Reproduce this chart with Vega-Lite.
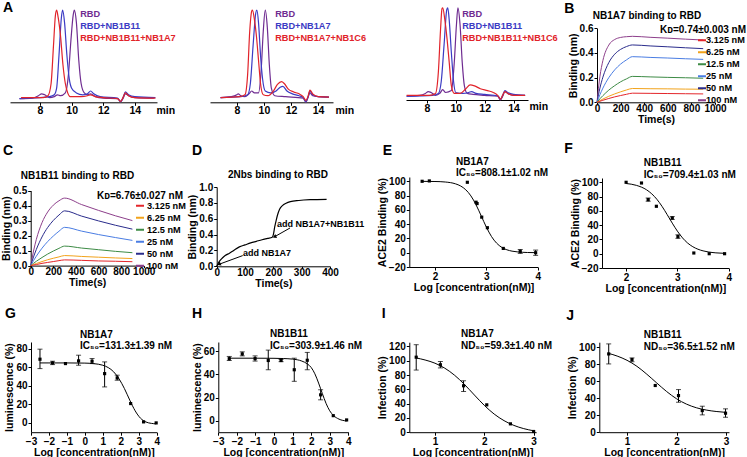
{
"$schema":"https://vega.github.io/schema/vega-lite/v6.json",
"padding":0,
"background":"white",
"config":{
 "view":{"stroke":null},
 "font":"Liberation Sans",
 "axis":{"grid":false,"domainColor":"black","domainWidth":1,"tickColor":"black","tickWidth":1,"tickSize":3,"labelColor":"black","labelFont":"Liberation Sans","labelFontWeight":"bold","labelFontSize":10,"labelPadding":1,"labelFlush":false,"labelOverlap":false,"titleColor":"black","titleFont":"Liberation Sans","titleFontWeight":"bold","titleFontSize":10.5,"titlePadding":1},
 "axisX":{"labelOverlap":false},
 "axisY":{"labelOverlap":false},
 "title":{"font":"Liberation Sans","fontWeight":"bold","fontSize":10,"color":"black","subtitleFont":"Liberation Sans","subtitleFontWeight":"bold","subtitleFontSize":10,"subtitleColor":"black","subtitlePadding":1.5},
 "legend":{"labelFont":"Liberation Sans","titleFont":"Liberation Sans","labelColor":"black","titleColor":"black","labelLimit":300,"titleLimit":300}
},
"datasets":{
"a1":[
{"s":"RBD","t":6.7,"v":0.04},{"s":"RBD","t":7.5,"v":0.045},{"s":"RBD","t":7.9,"v":0.07},{"s":"RBD","t":8.1,"v":0.09},{"s":"RBD","t":8.3,"v":0.08},{"s":"RBD","t":8.6,"v":0.05},{"s":"RBD","t":8.9,"v":0.06},{"s":"RBD","t":9.1,"v":0.08},{"s":"RBD","t":9.3,"v":0.07},{"s":"RBD","t":9.6,"v":0.1},{"s":"RBD","t":9.8,"v":0.3},{"s":"RBD","t":9.95,"v":0.65},{"s":"RBD","t":10.1,"v":0.93},{"s":"RBD","t":10.17,"v":0.98},{"s":"RBD","t":10.3,"v":0.85},{"s":"RBD","t":10.45,"v":0.45},{"s":"RBD","t":10.6,"v":0.2},{"s":"RBD","t":10.8,"v":0.1},{"s":"RBD","t":11,"v":0.08},{"s":"RBD","t":11.2,"v":0.09},{"s":"RBD","t":11.5,"v":0.06},{"s":"RBD","t":12,"v":0.045},{"s":"RBD","t":12.9,"v":0.04},{"s":"RBD","t":13.1,"v":0.005},{"s":"RBD","t":13.25,"v":0.04},{"s":"RBD","t":13.4,"v":0.09},{"s":"RBD","t":13.6,"v":0.07},{"s":"RBD","t":14,"v":0.05},{"s":"RBD","t":15.2,"v":0.045},
{"s":"RBD+NB1B11","t":6.7,"v":0.04},{"s":"RBD+NB1B11","t":8,"v":0.05},{"s":"RBD+NB1B11","t":8.6,"v":0.06},{"s":"RBD+NB1B11","t":8.9,"v":0.08},{"s":"RBD+NB1B11","t":9.05,"v":0.15},{"s":"RBD+NB1B11","t":9.2,"v":0.5},{"s":"RBD+NB1B11","t":9.35,"v":0.9},{"s":"RBD+NB1B11","t":9.43,"v":0.98},{"s":"RBD+NB1B11","t":9.55,"v":0.85},{"s":"RBD+NB1B11","t":9.7,"v":0.5},{"s":"RBD+NB1B11","t":9.85,"v":0.25},{"s":"RBD+NB1B11","t":10,"v":0.15},{"s":"RBD+NB1B11","t":10.3,"v":0.1},{"s":"RBD+NB1B11","t":10.7,"v":0.08},{"s":"RBD+NB1B11","t":11,"v":0.09},{"s":"RBD+NB1B11","t":11.2,"v":0.12},{"s":"RBD+NB1B11","t":11.4,"v":0.09},{"s":"RBD+NB1B11","t":11.8,"v":0.06},{"s":"RBD+NB1B11","t":12.9,"v":0.045},{"s":"RBD+NB1B11","t":13.1,"v":0.01},{"s":"RBD+NB1B11","t":13.25,"v":0.05},{"s":"RBD+NB1B11","t":13.4,"v":0.11},{"s":"RBD+NB1B11","t":13.6,"v":0.08},{"s":"RBD+NB1B11","t":14,"v":0.06},{"s":"RBD+NB1B11","t":15.3,"v":0.05},
{"s":"RBD+NB1B11+NB1A7","t":6.8,"v":0.05},{"s":"RBD+NB1B11+NB1A7","t":8.2,"v":0.05},{"s":"RBD+NB1B11+NB1A7","t":8.5,"v":0.07},{"s":"RBD+NB1B11+NB1A7","t":8.7,"v":0.2},{"s":"RBD+NB1B11+NB1A7","t":8.85,"v":0.6},{"s":"RBD+NB1B11+NB1A7","t":8.97,"v":0.92},{"s":"RBD+NB1B11+NB1A7","t":9.05,"v":0.98},{"s":"RBD+NB1B11+NB1A7","t":9.15,"v":0.9},{"s":"RBD+NB1B11+NB1A7","t":9.3,"v":0.7},{"s":"RBD+NB1B11+NB1A7","t":9.45,"v":0.4},{"s":"RBD+NB1B11+NB1A7","t":9.6,"v":0.2},{"s":"RBD+NB1B11+NB1A7","t":9.75,"v":0.1},{"s":"RBD+NB1B11+NB1A7","t":9.9,"v":0.06},{"s":"RBD+NB1B11+NB1A7","t":10.6,"v":0.06},{"s":"RBD+NB1B11+NB1A7","t":11,"v":0.07},{"s":"RBD+NB1B11+NB1A7","t":11.2,"v":0.08},{"s":"RBD+NB1B11+NB1A7","t":11.5,"v":0.06},{"s":"RBD+NB1B11+NB1A7","t":12,"v":0.05},{"s":"RBD+NB1B11+NB1A7","t":12.9,"v":0.04},{"s":"RBD+NB1B11+NB1A7","t":13.1,"v":0.01},{"s":"RBD+NB1B11+NB1A7","t":13.25,"v":0.05},{"s":"RBD+NB1B11+NB1A7","t":13.4,"v":0.1},{"s":"RBD+NB1B11+NB1A7","t":13.6,"v":0.07},{"s":"RBD+NB1B11+NB1A7","t":14,"v":0.05},{"s":"RBD+NB1B11+NB1A7","t":15.3,"v":0.045}
],
"a2":[
{"s":"RBD","t":6.8,"v":0.05},{"s":"RBD","t":7.6,"v":0.06},{"s":"RBD","t":8,"v":0.08},{"s":"RBD","t":8.1,"v":0.09},{"s":"RBD","t":8.3,"v":0.07},{"s":"RBD","t":8.6,"v":0.06},{"s":"RBD","t":8.9,"v":0.09},{"s":"RBD","t":9.1,"v":0.12},{"s":"RBD","t":9.3,"v":0.1},{"s":"RBD","t":9.6,"v":0.1},{"s":"RBD","t":9.8,"v":0.35},{"s":"RBD","t":9.95,"v":0.75},{"s":"RBD","t":10.1,"v":0.98},{"s":"RBD","t":10.25,"v":0.8},{"s":"RBD","t":10.4,"v":0.4},{"s":"RBD","t":10.55,"v":0.15},{"s":"RBD","t":10.8,"v":0.07},{"s":"RBD","t":11.6,"v":0.06},{"s":"RBD","t":12.9,"v":0.045},{"s":"RBD","t":13.1,"v":0},{"s":"RBD","t":13.25,"v":0.05},{"s":"RBD","t":13.4,"v":0.1},{"s":"RBD","t":13.6,"v":0.07},{"s":"RBD","t":14,"v":0.06},{"s":"RBD","t":14.8,"v":0.055},
{"s":"RBD+NB1A7","t":6.8,"v":0.05},{"s":"RBD+NB1A7","t":8.3,"v":0.06},{"s":"RBD+NB1A7","t":8.8,"v":0.08},{"s":"RBD+NB1A7","t":9,"v":0.2},{"s":"RBD+NB1A7","t":9.2,"v":0.6},{"s":"RBD+NB1A7","t":9.4,"v":0.95},{"s":"RBD+NB1A7","t":9.48,"v":0.98},{"s":"RBD+NB1A7","t":9.6,"v":0.85},{"s":"RBD+NB1A7","t":9.75,"v":0.5},{"s":"RBD+NB1A7","t":9.9,"v":0.25},{"s":"RBD+NB1A7","t":10.1,"v":0.12},{"s":"RBD+NB1A7","t":10.5,"v":0.1},{"s":"RBD+NB1A7","t":10.9,"v":0.12},{"s":"RBD+NB1A7","t":11.2,"v":0.16},{"s":"RBD+NB1A7","t":11.4,"v":0.17},{"s":"RBD+NB1A7","t":11.7,"v":0.12},{"s":"RBD+NB1A7","t":12.1,"v":0.09},{"s":"RBD+NB1A7","t":12.6,"v":0.07},{"s":"RBD+NB1A7","t":12.9,"v":0.05},{"s":"RBD+NB1A7","t":13.1,"v":0.01},{"s":"RBD+NB1A7","t":13.25,"v":0.05},{"s":"RBD+NB1A7","t":13.4,"v":0.12},{"s":"RBD+NB1A7","t":13.6,"v":0.08},{"s":"RBD+NB1A7","t":14,"v":0.06},{"s":"RBD+NB1A7","t":14.8,"v":0.055},
{"s":"RBD+NB1A7+NB1C6","t":6.8,"v":0.05},{"s":"RBD+NB1A7+NB1C6","t":8.2,"v":0.06},{"s":"RBD+NB1A7+NB1C6","t":8.6,"v":0.08},{"s":"RBD+NB1A7+NB1C6","t":8.8,"v":0.3},{"s":"RBD+NB1A7+NB1C6","t":8.95,"v":0.75},{"s":"RBD+NB1A7+NB1C6","t":9.1,"v":0.97},{"s":"RBD+NB1A7+NB1C6","t":9.15,"v":0.98},{"s":"RBD+NB1A7+NB1C6","t":9.3,"v":0.88},{"s":"RBD+NB1A7+NB1C6","t":9.45,"v":0.7},{"s":"RBD+NB1A7+NB1C6","t":9.6,"v":0.45},{"s":"RBD+NB1A7+NB1C6","t":9.75,"v":0.2},{"s":"RBD+NB1A7+NB1C6","t":9.95,"v":0.08},{"s":"RBD+NB1A7+NB1C6","t":10.3,"v":0.07},{"s":"RBD+NB1A7+NB1C6","t":10.7,"v":0.12},{"s":"RBD+NB1A7+NB1C6","t":11,"v":0.19},{"s":"RBD+NB1A7+NB1C6","t":11.3,"v":0.22},{"s":"RBD+NB1A7+NB1C6","t":11.5,"v":0.2},{"s":"RBD+NB1A7+NB1C6","t":11.8,"v":0.14},{"s":"RBD+NB1A7+NB1C6","t":12.2,"v":0.11},{"s":"RBD+NB1A7+NB1C6","t":12.6,"v":0.09},{"s":"RBD+NB1A7+NB1C6","t":12.9,"v":0.06},{"s":"RBD+NB1A7+NB1C6","t":13.1,"v":0.02},{"s":"RBD+NB1A7+NB1C6","t":13.25,"v":0.06},{"s":"RBD+NB1A7+NB1C6","t":13.4,"v":0.13},{"s":"RBD+NB1A7+NB1C6","t":13.6,"v":0.09},{"s":"RBD+NB1A7+NB1C6","t":14,"v":0.06},{"s":"RBD+NB1A7+NB1C6","t":14.8,"v":0.055}
],
"a3":[
{"s":"RBD","t":6.6,"v":0.04},{"s":"RBD","t":7.5,"v":0.05},{"s":"RBD","t":7.9,"v":0.07},{"s":"RBD","t":8.1,"v":0.09},{"s":"RBD","t":8.3,"v":0.08},{"s":"RBD","t":8.6,"v":0.05},{"s":"RBD","t":8.9,"v":0.07},{"s":"RBD","t":9.1,"v":0.11},{"s":"RBD","t":9.3,"v":0.08},{"s":"RBD","t":9.7,"v":0.1},{"s":"RBD","t":9.9,"v":0.4},{"s":"RBD","t":10.05,"v":0.8},{"s":"RBD","t":10.15,"v":0.98},{"s":"RBD","t":10.3,"v":0.8},{"s":"RBD","t":10.45,"v":0.4},{"s":"RBD","t":10.6,"v":0.15},{"s":"RBD","t":10.8,"v":0.07},{"s":"RBD","t":11.2,"v":0.06},{"s":"RBD","t":12,"v":0.05},{"s":"RBD","t":12.9,"v":0.04},{"s":"RBD","t":13.1,"v":0},{"s":"RBD","t":13.25,"v":0.04},{"s":"RBD","t":13.4,"v":0.09},{"s":"RBD","t":13.6,"v":0.07},{"s":"RBD","t":14,"v":0.05},{"s":"RBD","t":14.8,"v":0.05},
{"s":"RBD+NB1B11","t":6.6,"v":0.04},{"s":"RBD+NB1B11","t":8.4,"v":0.05},{"s":"RBD+NB1B11","t":8.8,"v":0.07},{"s":"RBD+NB1B11","t":9,"v":0.2},{"s":"RBD+NB1B11","t":9.2,"v":0.6},{"s":"RBD+NB1B11","t":9.38,"v":0.96},{"s":"RBD+NB1B11","t":9.45,"v":0.98},{"s":"RBD+NB1B11","t":9.55,"v":0.85},{"s":"RBD+NB1B11","t":9.7,"v":0.5},{"s":"RBD+NB1B11","t":9.85,"v":0.2},{"s":"RBD+NB1B11","t":10,"v":0.08},{"s":"RBD+NB1B11","t":10.5,"v":0.07},{"s":"RBD+NB1B11","t":10.9,"v":0.08},{"s":"RBD+NB1B11","t":11.1,"v":0.09},{"s":"RBD+NB1B11","t":11.4,"v":0.07},{"s":"RBD+NB1B11","t":12,"v":0.06},{"s":"RBD+NB1B11","t":12.9,"v":0.045},{"s":"RBD+NB1B11","t":13.1,"v":0.01},{"s":"RBD+NB1B11","t":13.25,"v":0.05},{"s":"RBD+NB1B11","t":13.4,"v":0.1},{"s":"RBD+NB1B11","t":13.6,"v":0.08},{"s":"RBD+NB1B11","t":14,"v":0.06},{"s":"RBD+NB1B11","t":14.8,"v":0.05},
{"s":"RBD+NB1B11+NB1C6","t":6.6,"v":0.05},{"s":"RBD+NB1B11+NB1C6","t":8.2,"v":0.05},{"s":"RBD+NB1B11+NB1C6","t":8.6,"v":0.07},{"s":"RBD+NB1B11+NB1C6","t":8.8,"v":0.3},{"s":"RBD+NB1B11+NB1C6","t":8.95,"v":0.75},{"s":"RBD+NB1B11+NB1C6","t":9.05,"v":0.97},{"s":"RBD+NB1B11+NB1C6","t":9.1,"v":0.98},{"s":"RBD+NB1B11+NB1C6","t":9.25,"v":0.85},{"s":"RBD+NB1B11+NB1C6","t":9.4,"v":0.65},{"s":"RBD+NB1B11+NB1C6","t":9.55,"v":0.4},{"s":"RBD+NB1B11+NB1C6","t":9.7,"v":0.15},{"s":"RBD+NB1B11+NB1C6","t":9.9,"v":0.07},{"s":"RBD+NB1B11+NB1C6","t":10.3,"v":0.07},{"s":"RBD+NB1B11+NB1C6","t":10.7,"v":0.12},{"s":"RBD+NB1B11+NB1C6","t":11,"v":0.16},{"s":"RBD+NB1B11+NB1C6","t":11.3,"v":0.15},{"s":"RBD+NB1B11+NB1C6","t":11.7,"v":0.12},{"s":"RBD+NB1B11+NB1C6","t":12.2,"v":0.1},{"s":"RBD+NB1B11+NB1C6","t":12.6,"v":0.08},{"s":"RBD+NB1B11+NB1C6","t":12.9,"v":0.05},{"s":"RBD+NB1B11+NB1C6","t":13.1,"v":0.01},{"s":"RBD+NB1B11+NB1C6","t":13.25,"v":0.05},{"s":"RBD+NB1B11+NB1C6","t":13.4,"v":0.09},{"s":"RBD+NB1B11+NB1C6","t":13.6,"v":0.07},{"s":"RBD+NB1B11+NB1C6","t":14,"v":0.05},{"s":"RBD+NB1B11+NB1C6","t":14.8,"v":0.05}
],
"b":[
{"c":"100 nM","t":0,"v":0},{"c":"100 nM","t":25,"v":0.211},{"c":"100 nM","t":50,"v":0.339},{"c":"100 nM","t":100,"v":0.464},{"c":"100 nM","t":150,"v":0.509},{"c":"100 nM","t":200,"v":0.526},{"c":"100 nM","t":250,"v":0.532},{"c":"100 nM","t":300,"v":0.535},{"c":"100 nM","t":450,"v":0.527},{"c":"100 nM","t":600,"v":0.52},{"c":"100 nM","t":750,"v":0.512},{"c":"100 nM","t":900,"v":0.505},
{"c":"50 nM","t":0,"v":0},{"c":"50 nM","t":25,"v":0.116},{"c":"50 nM","t":50,"v":0.204},{"c":"50 nM","t":100,"v":0.322},{"c":"50 nM","t":150,"v":0.39},{"c":"50 nM","t":200,"v":0.429},{"c":"50 nM","t":250,"v":0.452},{"c":"50 nM","t":300,"v":0.465},{"c":"50 nM","t":450,"v":0.457},{"c":"50 nM","t":600,"v":0.45},{"c":"50 nM","t":750,"v":0.442},{"c":"50 nM","t":900,"v":0.435},
{"c":"25 nM","t":0,"v":0},{"c":"25 nM","t":25,"v":0.062},{"c":"25 nM","t":50,"v":0.115},{"c":"25 nM","t":100,"v":0.2},{"c":"25 nM","t":150,"v":0.263},{"c":"25 nM","t":200,"v":0.31},{"c":"25 nM","t":250,"v":0.344},{"c":"25 nM","t":300,"v":0.37},{"c":"25 nM","t":450,"v":0.364},{"c":"25 nM","t":600,"v":0.359},{"c":"25 nM","t":750,"v":0.353},{"c":"25 nM","t":900,"v":0.348},
{"c":"12.5 nM","t":0,"v":0},{"c":"12.5 nM","t":25,"v":0.029},{"c":"12.5 nM","t":50,"v":0.054},{"c":"12.5 nM","t":100,"v":0.099},{"c":"12.5 nM","t":150,"v":0.135},{"c":"12.5 nM","t":200,"v":0.166},{"c":"12.5 nM","t":250,"v":0.19},{"c":"12.5 nM","t":300,"v":0.21},{"c":"12.5 nM","t":450,"v":0.206},{"c":"12.5 nM","t":600,"v":0.202},{"c":"12.5 nM","t":750,"v":0.199},{"c":"12.5 nM","t":900,"v":0.195},
{"c":"6.25 nM","t":0,"v":0},{"c":"6.25 nM","t":25,"v":0.0136},{"c":"6.25 nM","t":50,"v":0.0263},{"c":"6.25 nM","t":100,"v":0.049},{"c":"6.25 nM","t":150,"v":0.068},{"c":"6.25 nM","t":200,"v":0.085},{"c":"6.25 nM","t":250,"v":0.1},{"c":"6.25 nM","t":300,"v":0.112},{"c":"6.25 nM","t":450,"v":0.11},{"c":"6.25 nM","t":600,"v":0.109},{"c":"6.25 nM","t":750,"v":0.107},{"c":"6.25 nM","t":900,"v":0.106},
{"c":"3.125 nM","t":0,"v":0},{"c":"3.125 nM","t":25,"v":0.0085},{"c":"3.125 nM","t":50,"v":0.0165},{"c":"3.125 nM","t":100,"v":0.031},{"c":"3.125 nM","t":150,"v":0.044},{"c":"3.125 nM","t":200,"v":0.055},{"c":"3.125 nM","t":250,"v":0.065},{"c":"3.125 nM","t":300,"v":0.074},{"c":"3.125 nM","t":450,"v":0.0725},{"c":"3.125 nM","t":600,"v":0.071},{"c":"3.125 nM","t":750,"v":0.0695},{"c":"3.125 nM","t":900,"v":0.068}
],
"c":[
{"c":"100 nM","t":0,"v":0},{"c":"100 nM","t":25,"v":0.097},{"c":"100 nM","t":50,"v":0.175},{"c":"100 nM","t":100,"v":0.286},{"c":"100 nM","t":150,"v":0.357},{"c":"100 nM","t":200,"v":0.403},{"c":"100 nM","t":250,"v":0.432},{"c":"100 nM","t":300,"v":0.45},{"c":"100 nM","t":450,"v":0.407},{"c":"100 nM","t":600,"v":0.368},{"c":"100 nM","t":750,"v":0.332},{"c":"100 nM","t":900,"v":0.3},
{"c":"50 nM","t":0,"v":0},{"c":"50 nM","t":25,"v":0.058},{"c":"50 nM","t":50,"v":0.108},{"c":"50 nM","t":100,"v":0.191},{"c":"50 nM","t":150,"v":0.254},{"c":"50 nM","t":200,"v":0.301},{"c":"50 nM","t":250,"v":0.337},{"c":"50 nM","t":300,"v":0.365},{"c":"50 nM","t":450,"v":0.33},{"c":"50 nM","t":600,"v":0.298},{"c":"50 nM","t":750,"v":0.269},{"c":"50 nM","t":900,"v":0.243},
{"c":"25 nM","t":0,"v":0},{"c":"25 nM","t":25,"v":0.033},{"c":"25 nM","t":50,"v":0.063},{"c":"25 nM","t":100,"v":0.116},{"c":"25 nM","t":150,"v":0.16},{"c":"25 nM","t":200,"v":0.197},{"c":"25 nM","t":250,"v":0.229},{"c":"25 nM","t":300,"v":0.255},{"c":"25 nM","t":450,"v":0.23},{"c":"25 nM","t":600,"v":0.207},{"c":"25 nM","t":750,"v":0.187},{"c":"25 nM","t":900,"v":0.168},
{"c":"12.5 nM","t":0,"v":0},{"c":"12.5 nM","t":25,"v":0.015},{"c":"12.5 nM","t":50,"v":0.029},{"c":"12.5 nM","t":100,"v":0.054},{"c":"12.5 nM","t":150,"v":0.077},{"c":"12.5 nM","t":200,"v":0.097},{"c":"12.5 nM","t":250,"v":0.115},{"c":"12.5 nM","t":300,"v":0.13},{"c":"12.5 nM","t":450,"v":0.117},{"c":"12.5 nM","t":600,"v":0.106},{"c":"12.5 nM","t":750,"v":0.095},{"c":"12.5 nM","t":900,"v":0.086},
{"c":"6.25 nM","t":0,"v":0},{"c":"6.25 nM","t":25,"v":0.007},{"c":"6.25 nM","t":50,"v":0.014},{"c":"6.25 nM","t":100,"v":0.027},{"c":"6.25 nM","t":150,"v":0.039},{"c":"6.25 nM","t":200,"v":0.049},{"c":"6.25 nM","t":250,"v":0.058},{"c":"6.25 nM","t":300,"v":0.067},{"c":"6.25 nM","t":450,"v":0.061},{"c":"6.25 nM","t":600,"v":0.056},{"c":"6.25 nM","t":750,"v":0.051},{"c":"6.25 nM","t":900,"v":0.047},
{"c":"3.125 nM","t":0,"v":0},{"c":"3.125 nM","t":25,"v":0.004},{"c":"3.125 nM","t":50,"v":0.007},{"c":"3.125 nM","t":100,"v":0.015},{"c":"3.125 nM","t":150,"v":0.021},{"c":"3.125 nM","t":200,"v":0.027},{"c":"3.125 nM","t":250,"v":0.033},{"c":"3.125 nM","t":300,"v":0.038},{"c":"3.125 nM","t":450,"v":0.035},{"c":"3.125 nM","t":600,"v":0.031},{"c":"3.125 nM","t":750,"v":0.029},{"c":"3.125 nM","t":900,"v":0.026}
],
"d":[
{"t":0,"v":0},{"t":5,"v":0.035},{"t":10,"v":0.065},{"t":20,"v":0.105},{"t":30,"v":0.135},{"t":45,"v":0.165},{"t":60,"v":0.2},{"t":80,"v":0.245},{"t":100,"v":0.27},{"t":120,"v":0.295},{"t":140,"v":0.315},{"t":160,"v":0.335},{"t":180,"v":0.352},{"t":196,"v":0.366},{"t":200,"v":0.4},{"t":205,"v":0.5},{"t":210,"v":0.58},{"t":215,"v":0.65},{"t":222,"v":0.72},{"t":232,"v":0.765},{"t":245,"v":0.795},{"t":260,"v":0.815},{"t":290,"v":0.83},{"t":330,"v":0.84},{"t":388,"v":0.845}
],
"darrow":[{"t":91.8,"v":0.135,"t2":8,"v2":0.025},{"t":258.8,"v":0.483,"t2":204,"v2":0.372}],
"dtext":[{"t":92.8,"v":0.168,"txt":"add NB1A7"},{"t":212.9,"v":0.538,"txt":"add NB1A7+NB1B11"}],
"ec":[{"x":1.75,"y":99.9},{"x":2.0,"y":99.7},{"x":2.2,"y":99.0},{"x":2.4,"y":96.4},{"x":2.5,"y":93.4},{"x":2.6,"y":88.1},{"x":2.7,"y":79.5},{"x":2.8,"y":67.0},{"x":2.9,"y":51.6},{"x":3.0,"y":35.9},{"x":3.1,"y":22.7},{"x":3.2,"y":13.4},{"x":3.3,"y":7.5},{"x":3.4,"y":4.1},{"x":3.5,"y":2.2},{"x":3.6,"y":1.2},{"x":3.8,"y":0.3},{"x":3.96,"y":0.1}],
"ep":[{"x":1.75,"y":100},{"x":1.89,"y":100.5},{"x":2.63,"y":98.6},{"x":2.8,"y":70.7},{"x":2.82,"y":68.8},{"x":2.91,"y":49.8},{"x":3.02,"y":35},{"x":3.33,"y":6},{"x":3.66,"y":1.9,"lo":-1,"hi":4.5},{"x":3.96,"y":0,"lo":-3.7,"hi":3.7}],
"fc":[{"x":2.0,"y":98.3},{"x":2.2,"y":95.7},{"x":2.4,"y":89.4},{"x":2.5,"y":83.8},{"x":2.6,"y":76.2},{"x":2.7,"y":66.3},{"x":2.8,"y":54.8},{"x":2.9,"y":42.8},{"x":3.0,"y":31.6},{"x":3.1,"y":22.1},{"x":3.2,"y":14.9},{"x":3.3,"y":9.8},{"x":3.4,"y":6.3},{"x":3.5,"y":4.0},{"x":3.6,"y":2.5},{"x":3.75,"y":1.2},{"x":3.92,"y":0.5}],
"fp":[{"x":2,"y":100},{"x":2.3,"y":99},{"x":2.43,"y":75.7,"lo":73.5,"hi":78},{"x":2.59,"y":66.4},{"x":2.9,"y":50,"lo":48,"hi":52},{"x":3.01,"y":24,"lo":21.5,"hi":26.5},{"x":3.32,"y":1},{"x":3.62,"y":0},{"x":3.92,"y":0}],
"gc":[{"x":-2.5,"y":64.5},{"x":-2,"y":64.5},{"x":-1,"y":64.5},{"x":0,"y":64.3},{"x":0.5,"y":63.7},{"x":1.0,"y":62},{"x":1.3,"y":59.5},{"x":1.6,"y":55},{"x":1.9,"y":47.5},{"x":2.2,"y":37},{"x":2.5,"y":24.5},{"x":2.8,"y":13},{"x":3.1,"y":5},{"x":3.4,"y":1},{"x":3.7,"y":-0.5},{"x":3.97,"y":-1}],
"gp":[{"x":-2.5,"y":68.5,"lo":58.4,"hi":79.3},{"x":-1.8,"y":64.5,"lo":62.7,"hi":66.3},{"x":-1.08,"y":63.8},{"x":-0.35,"y":66.7,"lo":62,"hi":72.8},{"x":0.4,"y":66.3,"lo":63.8,"hi":69.2},{"x":1.1,"y":53,"lo":38.7,"hi":65.6},{"x":1.8,"y":48.4,"lo":45.9,"hi":51.3},{"x":2.55,"y":20.8},{"x":3.27,"y":1.1},{"x":3.97,"y":0}],
"hc":[{"x":-2.41,"y":54},{"x":-1,"y":54},{"x":0,"y":53.9},{"x":0.5,"y":53.7},{"x":1.0,"y":53.2},{"x":1.5,"y":51.5},{"x":1.8,"y":49},{"x":2.0,"y":46},{"x":2.2,"y":40.5},{"x":2.4,"y":32.5},{"x":2.6,"y":23.5},{"x":2.8,"y":15},{"x":3.0,"y":8.5},{"x":3.2,"y":4.5},{"x":3.5,"y":1.3},{"x":3.91,"y":-0.3}],
"hp":[{"x":-2.41,"y":53.6,"lo":52,"hi":55.5},{"x":-1.71,"y":57.7,"lo":56,"hi":59.5},{"x":-1.02,"y":53.6,"lo":51.5,"hi":56},{"x":-0.31,"y":52,"lo":44,"hi":61},{"x":0.38,"y":52,"lo":51,"hi":53},{"x":1.09,"y":44,"lo":34,"hi":54},{"x":1.79,"y":52.2,"lo":44,"hi":59},{"x":2.51,"y":22.3,"lo":18,"hi":26.7},{"x":3.19,"y":4.3},{"x":3.91,"y":0.6}],
"ic":[{"x":0.62,"y":104},{"x":0.8,"y":101.1},{"x":1.0,"y":96.6},{"x":1.2,"y":89.6},{"x":1.4,"y":79.6},{"x":1.6,"y":66.7},{"x":1.8,"y":52},{"x":2.0,"y":37.6},{"x":2.2,"y":25.4},{"x":2.4,"y":16.2},{"x":2.6,"y":9.5},{"x":2.8,"y":5},{"x":3.0,"y":2}],
"ip":[{"x":0.62,"y":105,"lo":87,"hi":122.5},{"x":1.11,"y":94.4,"lo":90,"hi":99},{"x":1.58,"y":65,"lo":57,"hi":72},{"x":2.05,"y":38.3},{"x":2.53,"y":11.7},{"x":3.0,"y":1}],
"jc":[{"x":0.63,"y":92.8},{"x":0.8,"y":89.7},{"x":1.0,"y":84.7},{"x":1.2,"y":77.6},{"x":1.4,"y":68.3},{"x":1.6,"y":58},{"x":1.8,"y":47.9},{"x":2.0,"y":39.4},{"x":2.2,"y":33.1},{"x":2.4,"y":28.8},{"x":2.6,"y":26.1},{"x":2.8,"y":24.4},{"x":2.99,"y":23.4}],
"jp":[{"x":0.63,"y":92.2,"lo":80.4,"hi":104},{"x":1.1,"y":85.5,"lo":83,"hi":87.5},{"x":1.57,"y":55},{"x":2.04,"y":43.1,"lo":35.3,"hi":50.2},{"x":2.52,"y":25.5,"lo":20.4,"hi":30.6},{"x":2.99,"y":22.4,"lo":17.6,"hi":27.5}]
},
"columns":8,
"spacing":0,
"bounds":"flush",
"align":"each",
"resolve":{"scale":{"color":"independent"}},
"concat":[
{"width":10,"height":102.3,"data":{"values":[]},"mark":"point","title":{"text":"A","anchor":"start","frame":"group","dx":3,"offset":-15,"fontSize":14}},
{"width":147,"height":102.3,"data":{"name":"a1"},"mark":{"type":"line","strokeWidth":1.2,"interpolate":"monotone"},
 "encoding":{
  "x":{"field":"t","type":"quantitative","scale":{"domain":[6.1,15.4],"range":[0,147],"nice":false,"zero":false},"axis":{"values":[8,10,12,14],"format":"d","labelOverlap":false,"title":"min","titleX":146,"titleY":3,"titleAlign":"left","titleBaseline":"top","titleAngle":0,"labelFontSize":10.5,"labelPadding":0}},
  "y":{"field":"v","type":"quantitative","scale":{"domain":[0,1],"range":[102.3,8.3],"nice":false},"axis":null},
  "color":{"field":"s","type":"nominal","scale":{"domain":["RBD","RBD+NB1B11","RBD+NB1B11+NB1A7"],"range":["#6f2c91","#3b3bc4","#e1232a"]},
   "legend":{"title":null,"orient":"none","legendX":61,"legendY":9.5,"symbolOpacity":0,"symbolSize":0,"symbolStrokeWidth":0,"labelOffset":0,"labelFontSize":9.2,"labelFontWeight":"bold","clipHeight":8.2,
    "encoding":{"labels":{"fill":{"condition":[{"test":"datum.index === 0","value":"#6f2c91"},{"test":"datum.index === 1","value":"#3b3bc4"}],"value":"#e1232a"}}}}}
 }},
{"width":53,"height":102.3,"data":{"values":[]},"mark":"point"},
{"width":138.3,"height":102.3,"data":{"name":"a2"},"mark":{"type":"line","strokeWidth":1.2,"interpolate":"monotone"},
 "encoding":{
  "x":{"field":"t","type":"quantitative","scale":{"domain":[6.02,15.1],"range":[0,123],"nice":false,"zero":false},"axis":{"values":[8,10,12,14],"format":"d","labelOverlap":false,"title":"min","titleX":125,"titleY":3,"titleAlign":"left","titleBaseline":"top","titleAngle":0,"labelFontSize":10.5,"labelPadding":0}},
  "y":{"field":"v","type":"quantitative","scale":{"domain":[0,1],"range":[102.3,8.3],"nice":false},"axis":null},
  "color":{"field":"s","type":"nominal","scale":{"domain":["RBD","RBD+NB1A7","RBD+NB1A7+NB1C6"],"range":["#6f2c91","#3b3bc4","#e1232a"]},
   "legend":{"title":null,"orient":"none","legendX":56,"legendY":9.5,"symbolOpacity":0,"symbolSize":0,"symbolStrokeWidth":0,"labelOffset":0,"labelFontSize":9.2,"labelFontWeight":"bold","clipHeight":8.2,
    "encoding":{"labels":{"fill":{"condition":[{"test":"datum.index === 0","value":"#6f2c91"},{"test":"datum.index === 1","value":"#3b3bc4"}],"value":"#e1232a"}}}}}
 }},
{"width":56.7,"height":102.3,"data":{"values":[]},"mark":"point"},
{"width":131.7,"height":102.3,"data":{"name":"a3"},"mark":{"type":"line","strokeWidth":1.2,"interpolate":"monotone"},
 "encoding":{
  "x":{"field":"t","type":"quantitative","scale":{"domain":[6.56,15.0],"range":[0,122],"nice":false,"zero":false},"axis":{"values":[8,10,12,14],"format":"d","labelOverlap":false,"title":"min","titleX":123,"titleY":1,"titleAlign":"left","titleBaseline":"top","titleAngle":0,"labelFontSize":10.5,"labelPadding":0,"offset":-2.3}},
  "y":{"field":"v","type":"quantitative","scale":{"domain":[0,1],"range":[100,6],"nice":false},"axis":null},
  "color":{"field":"s","type":"nominal","scale":{"domain":["RBD","RBD+NB1B11","RBD+NB1B11+NB1C6"],"range":["#6f2c91","#3b3bc4","#e1232a"]},
   "legend":{"title":null,"orient":"none","legendX":47,"legendY":9.5,"symbolOpacity":0,"symbolSize":0,"symbolStrokeWidth":0,"labelOffset":0,"labelFontSize":9.2,"labelFontWeight":"bold","clipHeight":8.2,
    "encoding":{"labels":{"fill":{"condition":[{"test":"datum.index === 0","value":"#6f2c91"},{"test":"datum.index === 1","value":"#3b3bc4"}],"value":"#e1232a"}}}}}
 }},
{"width":58.3,"height":102.3,"data":{"values":[]},"mark":"point","title":{"text":"B","anchor":"start","frame":"group","dx":26.3,"offset":-16,"fontSize":14}},
{"width":132,"height":102.3,"title":{"text":"NB1A7 binding to RBD","anchor":"middle","frame":"group","dx":-16,"offset":-21},
 "data":{"name":"b"},"mark":{"type":"line","strokeWidth":1,"interpolate":"monotone"},
 "encoding":{
  "x":{"field":"t","type":"quantitative","scale":{"domain":[0,1000],"range":[0,118],"nice":false},"axis":{"values":[0,200,400,600,800,1000],"format":"d","labelOverlap":false,"title":"Time(s)","tickSize":2,"labelPadding":-1}},
  "y":{"field":"v","type":"quantitative","scale":{"domain":[0,0.6],"range":[102.3,28.3],"nice":false},"axis":{"values":[0,0.2,0.4,0.6],"format":".1f","labelOverlap":false,"title":"Binding (nm)"}},
  "color":{"field":"c","type":"nominal","scale":{"domain":["3.125 nM","6.25 nM","12.5 nM","25 nM","50 nM","100 nM"],"range":["#e4262b","#f2a31b","#3d8b45","#4a7de3","#2a2c8c","#8d3f8b"]},
   "legend":{"title":"Kᴅ=0.74±0.003 nM","orient":"none","legendX":63,"legendY":24.5,"symbolType":"stroke","symbolSize":64,"symbolStrokeWidth":2,"symbolOffset":37,"labelOffset":-1,"labelFontSize":9.2,"labelFontWeight":"bold","clipHeight":6.3,"titleFontSize":10,"titleFontWeight":"bold","titlePadding":2.6}}
 }},

{"width":10,"height":73.4,"data":{"values":[]},"mark":"point"},
{"width":147,"height":73.4,"data":{"values":[]},"mark":"point"},
{"width":53,"height":73.4,"data":{"values":[]},"mark":"point"},
{"width":138.3,"height":73.4,"data":{"values":[]},"mark":"point"},
{"width":56.7,"height":73.4,"data":{"values":[]},"mark":"point"},
{"width":131.7,"height":73.4,"data":{"values":[]},"mark":"point"},
{"width":58.3,"height":73.4,"data":{"values":[]},"mark":"point"},
{"width":132,"height":73.4,"data":{"values":[]},"mark":"point"},

{"width":10,"height":91,"data":{"values":[]},"mark":"point","title":{"text":"C","anchor":"start","frame":"group","dx":3,"offset":18.7,"fontSize":14}},
{"width":147,"height":91,"title":{"text":"NB1B11 binding to RBD","anchor":"middle","frame":"group","dx":-6,"offset":-3.6},
 "data":{"name":"c"},"mark":{"type":"line","strokeWidth":1,"interpolate":"monotone"},
 "encoding":{
  "x":{"field":"t","type":"quantitative","scale":{"domain":[0,1000],"range":[20.7,133.7],"nice":false},"axis":{"values":[0,200,400,600,800,1000],"format":"d","labelOverlap":false,"title":"Time(s)","tickSize":2,"labelPadding":-1,"offset":-2.4}},
  "y":{"field":"v","type":"quantitative","scale":{"domain":[0,0.5],"range":[88.6,13.6],"nice":false},"axis":{"values":[0,0.1,0.2,0.3,0.4,0.5],"format":".1f","labelOverlap":false,"title":"Binding (nm)","offset":-20.7}},
  "color":{"field":"c","type":"nominal","scale":{"domain":["3.125 nM","6.25 nM","12.5 nM","25 nM","50 nM","100 nM"],"range":["#e4262b","#f2a31b","#3d8b45","#4a7de3","#2a2c8c","#8d3f8b"]},
   "legend":{"title":"Kᴅ=6.76±0.027 nM","orient":"none","legendX":87,"legendY":14.3,"symbolType":"stroke","symbolSize":64,"symbolStrokeWidth":2,"symbolOffset":38,"labelOffset":2,"labelFontSize":9.2,"labelFontWeight":"bold","clipHeight":6.5,"titleFontSize":10,"titleFontWeight":"bold","titlePadding":1.2}}
 }},
{"width":53,"height":91,"data":{"values":[]},"mark":"point","title":{"text":"D","anchor":"start","frame":"group","dx":35,"offset":18.7,"fontSize":14}},
{"width":138.3,"height":91,"title":{"text":"2Nbs binding to RBD","anchor":"middle","frame":"group","dx":-1.2,"offset":-3.3},
 "encoding":{
  "x":{"field":"t","type":"quantitative","title":"Time(s)","scale":{"domain":[0,400],"range":[6.7,120],"nice":false},"axis":{"values":[0,100,200,300,400],"format":"d","labelOverlap":false,"tickSize":2,"labelPadding":-1,"offset":-1.7}},
  "y":{"field":"v","type":"quantitative","title":"Binding (nm)","scale":{"domain":[0,1],"range":[89.3,10],"nice":false},"axis":{"values":[0,0.2,0.4,0.6,0.8,1],"format":".1f","labelOverlap":false,"offset":-6.7}}},
 "layer":[
  {"data":{"name":"d"},"mark":{"type":"line","color":"black","strokeWidth":1.2,"interpolate":"monotone"}},
  {"data":{"name":"darrow"},"mark":{"type":"rule","color":"black","strokeWidth":1},
   "encoding":{"x2":{"field":"t2"},"y2":{"field":"v2"}}},
  {"data":{"name":"darrow"},"mark":{"type":"point","shape":"triangle-right","filled":true,"color":"black","size":18,"angle":155,"opacity":1},
   "encoding":{
    "x":{"field":"t2","type":"quantitative","title":"Time(s)","scale":{"domain":[0,400],"range":[6.7,120],"nice":false},"axis":{"values":[0,100,200,300,400],"format":"d","labelOverlap":false,"tickSize":2,"labelPadding":-1,"offset":-1.7}},
    "y":{"field":"v2","type":"quantitative","title":"Binding (nm)","scale":{"domain":[0,1],"range":[89.3,10],"nice":false},"axis":{"values":[0,0.2,0.4,0.6,0.8,1],"format":".1f","labelOverlap":false,"offset":-6.7}}}},
  {"data":{"name":"dtext"},"mark":{"type":"text","align":"left","baseline":"middle","fontSize":9,"fontWeight":"bold","color":"black","font":"Liberation Sans"},
   "encoding":{"text":{"field":"txt"}}}
 ]},
{"width":56.7,"height":91,"data":{"values":[]},"mark":"point","title":{"text":"E","anchor":"start","frame":"group","dx":33.7,"offset":18.7,"fontSize":14}},
{"width":131.7,"height":91,"title":{"text":"NB1A7","subtitle":"IC₅₀=808.1±1.02 nM","anchor":"start","frame":"group","dx":50,"offset":-1.8},
 "encoding":{
  "x":{"field":"x","type":"quantitative","title":"Log [concentration(nM)]","scale":{"domain":[1.5,4],"range":[3.3,131.7],"nice":false,"zero":false},"axis":{"values":[2,3,4],"format":"d","labelOverlap":false,"offset":-1}},
  "y":{"field":"y","type":"quantitative","title":"ACE2 Binding (%)","scale":{"domain":[-20,106],"range":[90,0],"nice":false,"zero":false},"axis":{"values":[-20,0,20,40,60,80,100],"format":"d","labelOverlap":false,"offset":-3.3}}},
 "layer":[
  {"data":{"name":"ec"},"mark":{"type":"line","color":"black","strokeWidth":1,"interpolate":"monotone"}},
  {"data":{"name":"ep"},"transform":[{"filter":"datum.lo != null"}],"mark":{"type":"errorbar","color":"black","ticks":{"size":5}},
   "encoding":{"y":{"field":"lo","type":"quantitative","title":"ACE2 Binding (%)","scale":{"domain":[-20,106],"range":[90,0],"nice":false,"zero":false},"axis":{"values":[-20,0,20,40,60,80,100],"format":"d","labelOverlap":false,"offset":-3.3}},"y2":{"field":"hi"}}},
  {"data":{"name":"ep"},"mark":{"type":"square","color":"black","size":10,"filled":true,"opacity":1}}
 ]},
{"width":58.3,"height":91,"data":{"values":[]},"mark":"point","title":{"text":"F","anchor":"start","frame":"group","dx":26.3,"offset":20.7,"fontSize":14}},
{"width":132,"height":91,"title":{"text":"NB1B11","subtitle":"IC₅₀=709.4±1.03 nM","anchor":"start","frame":"group","dx":46.7,"offset":-2.8},
 "encoding":{
  "x":{"field":"x","type":"quantitative","title":"Log [concentration(nM)]","scale":{"domain":[1.53,4],"range":[5,131.7],"nice":false,"zero":false},"axis":{"values":[2,3,4],"format":"d","labelOverlap":false}},
  "y":{"field":"y","type":"quantitative","title":"ACE2 Binding (%)","scale":{"domain":[-20,106],"range":[91,1],"nice":false,"zero":false},"axis":{"values":[-20,0,20,40,60,80,100],"format":"d","labelOverlap":false,"offset":-5}}},
 "layer":[
  {"data":{"name":"fc"},"mark":{"type":"line","color":"black","strokeWidth":1,"interpolate":"monotone"}},
  {"data":{"name":"fp"},"transform":[{"filter":"datum.lo != null"}],"mark":{"type":"errorbar","color":"black","ticks":{"size":5}},
   "encoding":{"y":{"field":"lo","type":"quantitative","title":"ACE2 Binding (%)","scale":{"domain":[-20,106],"range":[91,1],"nice":false,"zero":false},"axis":{"values":[-20,0,20,40,60,80,100],"format":"d","labelOverlap":false,"offset":-5}},"y2":{"field":"hi"}}},
  {"data":{"name":"fp"},"mark":{"type":"square","color":"black","size":10,"filled":true,"opacity":1}}
 ]},

{"width":10,"height":73.1,"data":{"values":[]},"mark":"point"},
{"width":147,"height":73.1,"data":{"values":[]},"mark":"point"},
{"width":53,"height":73.1,"data":{"values":[]},"mark":"point"},
{"width":138.3,"height":73.1,"data":{"values":[]},"mark":"point"},
{"width":56.7,"height":73.1,"data":{"values":[]},"mark":"point"},
{"width":131.7,"height":73.1,"data":{"values":[]},"mark":"point"},
{"width":58.3,"height":73.1,"data":{"values":[]},"mark":"point"},
{"width":132,"height":73.1,"data":{"values":[]},"mark":"point"},

{"width":10,"height":90.2,"data":{"values":[]},"mark":"point","title":{"text":"G","anchor":"start","frame":"group","dx":5,"offset":20.8,"fontSize":14}},
{"width":147,"height":90.2,"title":{"text":"NB1A7","subtitle":"IC₅₀=131.3±1.39 nM","anchor":"start","frame":"group","dx":70,"offset":-9.4},
 "encoding":{
  "x":{"field":"x","type":"quantitative","title":"Log [concentration(nM)]","scale":{"domain":[-3,4],"range":[21,146.7],"nice":false,"zero":false},"axis":{"values":[-3,-2,-1,0,1,2,3,4],"format":"d","labelOverlap":false}},
  "y":{"field":"y","type":"quantitative","title":"luminescence (%)","scale":{"domain":[-10,87],"range":[90.2,0],"nice":false,"zero":false},"axis":{"values":[0,20,40,60,80],"format":"d","labelOverlap":false,"offset":-21}}},
 "layer":[
  {"data":{"name":"gc"},"mark":{"type":"line","color":"black","strokeWidth":1,"interpolate":"monotone"}},
  {"data":{"name":"gp"},"transform":[{"filter":"datum.lo != null"}],"mark":{"type":"errorbar","color":"black","ticks":{"size":5}},
   "encoding":{"y":{"field":"lo","type":"quantitative","title":"luminescence (%)","scale":{"domain":[-10,87],"range":[90.2,0],"nice":false,"zero":false},"axis":{"values":[0,20,40,60,80],"format":"d","labelOverlap":false,"offset":-21}},"y2":{"field":"hi"}}},
  {"data":{"name":"gp"},"mark":{"type":"square","color":"black","size":10,"filled":true,"opacity":1}}
 ]},
{"width":53,"height":90.2,"data":{"values":[]},"mark":"point","title":{"text":"H","anchor":"start","frame":"group","dx":35,"offset":20.8,"fontSize":14}},
{"width":138.3,"height":90.2,"title":{"text":"NB1B11","subtitle":"IC₅₀=303.9±1.46 nM","anchor":"start","frame":"group","dx":60,"offset":-8.7},
 "encoding":{
  "x":{"field":"x","type":"quantitative","title":"Log [concentration(nM)]","scale":{"domain":[-3,4],"range":[8.3,138.3],"nice":false,"zero":false},"axis":{"values":[-3,-2,-1,0,1,2,3,4],"format":"d","labelOverlap":false}},
  "y":{"field":"y","type":"quantitative","title":"luminescence (%)","scale":{"domain":[-10,68],"range":[90.2,0],"nice":false,"zero":false},"axis":{"values":[0,20,40,60],"format":"d","labelOverlap":false,"offset":-8.3}}},
 "layer":[
  {"data":{"name":"hc"},"mark":{"type":"line","color":"black","strokeWidth":1,"interpolate":"monotone"}},
  {"data":{"name":"hp"},"transform":[{"filter":"datum.lo != null"}],"mark":{"type":"errorbar","color":"black","ticks":{"size":5}},
   "encoding":{"y":{"field":"lo","type":"quantitative","title":"luminescence (%)","scale":{"domain":[-10,68],"range":[90.2,0],"nice":false,"zero":false},"axis":{"values":[0,20,40,60],"format":"d","labelOverlap":false,"offset":-8.3}},"y2":{"field":"hi"}}},
  {"data":{"name":"hp"},"mark":{"type":"square","color":"black","size":10,"filled":true,"opacity":1}}
 ]},
{"width":56.7,"height":90.2,"data":{"values":[]},"mark":"point","title":{"text":"I","anchor":"start","frame":"group","dx":32.7,"offset":20.8,"fontSize":14}},
{"width":131.7,"height":90.2,"title":{"text":"NB1A7","subtitle":"ND₅₀=59.3±1.40 nM","anchor":"start","frame":"group","dx":55,"offset":-9.4},
 "encoding":{
  "x":{"field":"x","type":"quantitative","title":"Log [concentration(nM)]","scale":{"domain":[0.48,3.05],"range":[3.3,130.1],"nice":false,"zero":false},"axis":{"values":[1,2,3],"format":"d","labelOverlap":false}},
  "y":{"field":"y","type":"quantitative","title":"Infection (%)","scale":{"domain":[0,126],"range":[90.2,0.2],"nice":false,"zero":false},"axis":{"values":[0,20,40,60,80,100,120],"format":"d","labelOverlap":false,"offset":-3.3}}},
 "layer":[
  {"data":{"name":"ic"},"mark":{"type":"line","color":"black","strokeWidth":1,"interpolate":"monotone"}},
  {"data":{"name":"ip"},"transform":[{"filter":"datum.lo != null"}],"mark":{"type":"errorbar","color":"black","ticks":{"size":5}},
   "encoding":{"y":{"field":"lo","type":"quantitative","title":"Infection (%)","scale":{"domain":[0,126],"range":[90.2,0.2],"nice":false,"zero":false},"axis":{"values":[0,20,40,60,80,100,120],"format":"d","labelOverlap":false,"offset":-3.3}},"y2":{"field":"hi"}}},
  {"data":{"name":"ip"},"mark":{"type":"square","color":"black","size":10,"filled":true,"opacity":1}}
 ]},
{"width":58.3,"height":90.2,"data":{"values":[]},"mark":"point","title":{"text":"J","anchor":"start","frame":"group","dx":28.3,"offset":18.8,"fontSize":14}},
{"width":132,"height":90.2,"title":{"text":"NB1B11","subtitle":"ND₅₀=36.5±1.52 nM","anchor":"start","frame":"group","dx":46.7,"offset":-9.5},
 "encoding":{
  "x":{"field":"x","type":"quantitative","title":"Log [concentration(nM)]","scale":{"domain":[0.44,3.06],"range":[2.3,132],"nice":false,"zero":false},"axis":{"values":[1,2,3],"format":"d","labelOverlap":false}},
  "y":{"field":"y","type":"quantitative","title":"Infection (%)","scale":{"domain":[0,106],"range":[90.2,0.2],"nice":false,"zero":false},"axis":{"values":[0,20,40,60,80,100],"format":"d","labelOverlap":false,"offset":-2.3}}},
 "layer":[
  {"data":{"name":"jc"},"mark":{"type":"line","color":"black","strokeWidth":1,"interpolate":"monotone"}},
  {"data":{"name":"jp"},"transform":[{"filter":"datum.lo != null"}],"mark":{"type":"errorbar","color":"black","ticks":{"size":5}},
   "encoding":{"y":{"field":"lo","type":"quantitative","title":"Infection (%)","scale":{"domain":[0,106],"range":[90.2,0.2],"nice":false,"zero":false},"axis":{"values":[0,20,40,60,80,100],"format":"d","labelOverlap":false,"offset":-2.3}},"y2":{"field":"hi"}}},
  {"data":{"name":"jp"},"mark":{"type":"square","color":"black","size":10,"filled":true,"opacity":1}}
 ]}
]
}
